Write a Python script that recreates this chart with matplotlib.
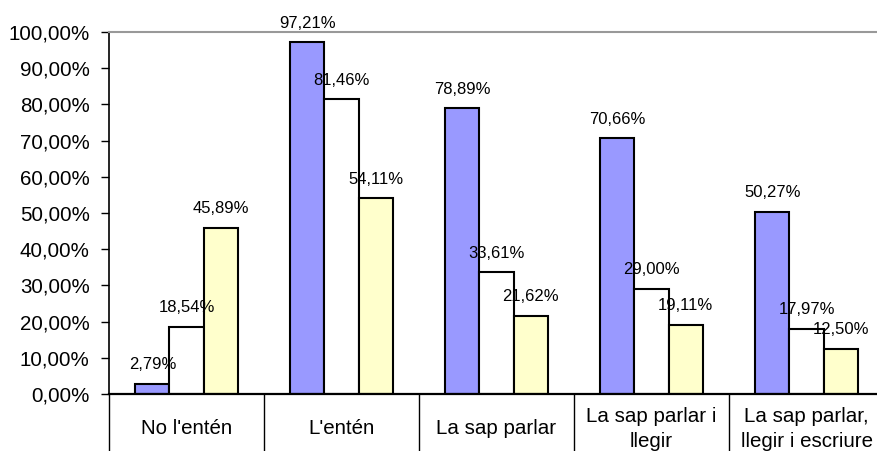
import matplotlib
matplotlib.use("Agg")
import matplotlib.pyplot as plt
from matplotlib.ticker import FuncFormatter
import numpy as np

plt.rcParams['font.family'] = ['Liberation Sans', 'DejaVu Sans']

categories = ["No l'entén", "L'entén", "La sap parlar", "La sap parlar i\nllegir", "La sap parlar,\nllegir i escriure"]
serie_blava = [2.79, 97.21, 78.89, 70.66, 50.27]
serie_blanca = [18.54, 81.46, 33.61, 29.00, 17.97]
serie_groga = [45.89, 54.11, 21.62, 19.11, 12.50]
y_ticks = list(range(0, 101, 10))

colors = ['#9999FF', '#FFFFFF', '#FFFFCC']
series = [serie_blava, serie_blanca, serie_groga]

W, H = 877, 451
fig = plt.figure(figsize=(W / 100, H / 100), dpi=100)
left, right, top, bottom = 109, 884, 32, 394
ax = fig.add_axes([left / W, (H - bottom) / H, (right - left) / W, (bottom - top) / H])

x = np.arange(len(categories))
bw = 0.22
for i, (vals, c) in enumerate(zip(series, colors)):
    xs = x + (i - 1) * bw
    ax.bar(xs, vals, width=bw, color=c, edgecolor='black', linewidth=1.5, zorder=3)
    for xi, v in zip(xs, vals):
        ax.annotate(f"{v:.2f}%".replace('.', ','), (xi, v), xytext=(0, 8.3),
                    textcoords='offset points', ha='center', va='bottom',
                    fontsize=12, zorder=5, annotation_clip=False)

ax.set_xlim(-0.5, len(categories) - 0.5)
ax.set_ylim(0, 100)
ax.set_yticks(y_ticks)
ax.yaxis.set_major_formatter(FuncFormatter(lambda v, p: f"{v:.2f}%".replace('.', ',')))
ax.tick_params(axis='y', direction='out', length=6, width=1, pad=8, labelsize=14.8, colors='black')
ax.set_xticks([])

ax.spines['right'].set_visible(False)
ax.spines['top'].set_color('#999999')
ax.spines['top'].set_linewidth(1.5)
ax.spines['left'].set_linewidth(1.2)
ax.spines['bottom'].set_linewidth(1.6)
ax.spines['bottom'].set_zorder(4)

trans = ax.get_xaxis_transform()
below = -(H - bottom) / (bottom - top)
for b in np.arange(len(categories) + 1) - 0.5:
    ax.plot([b, b], [0, below], transform=trans, color='black', lw=1.0, clip_on=False)

for xi, lab in zip(x, categories):
    ax.annotate(lab, (xi, 0), xycoords=trans, xytext=(0, -25), textcoords='offset points',
                ha='center', va='center', multialignment='center', fontsize=14.8,
                linespacing=1.38, annotation_clip=False)

fig.savefig('out.png', dpi=100)
